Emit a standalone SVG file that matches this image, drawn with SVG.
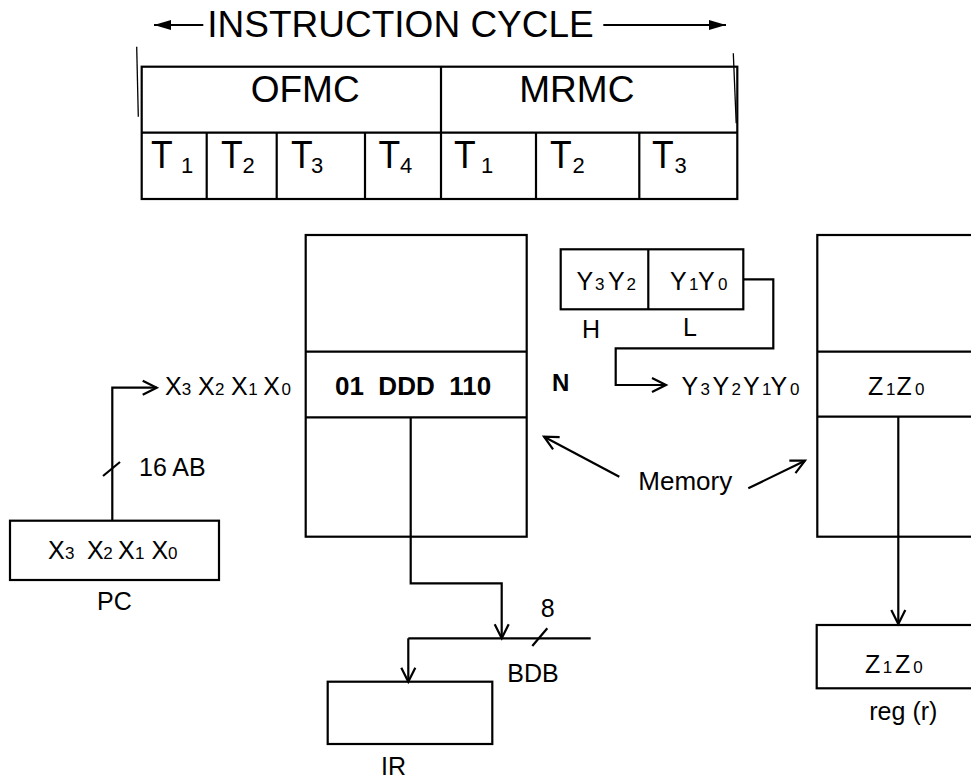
<svg xmlns="http://www.w3.org/2000/svg" width="971" height="780" viewBox="0 0 971 780">
<style>
text{font-family:"Liberation Sans",Arial,sans-serif;fill:#000}
.box{fill:#fff;stroke:#000;stroke-width:2.2}
.ln{fill:none;stroke:#000;stroke-width:2.2}
.thin{fill:none;stroke:#000;stroke-width:1.3}
.big{font-size:37px}
.tt{font-size:35.5px}
.sub{font-size:22px}
.lbl{font-size:25px}
.reg{font-size:25px}
.dg{font-size:17px}
</style>
<defs>
<marker id="open" markerUnits="userSpaceOnUse" markerWidth="20" markerHeight="20" refX="16" refY="8" orient="auto" overflow="visible">
<path d="M2,1 L16,8 L2,15" fill="none" stroke="#000" stroke-width="2.2"/>
</marker>
<marker id="solid" markerUnits="userSpaceOnUse" markerWidth="20" markerHeight="12" refX="17" refY="5" orient="auto">
<path d="M0,0 L17,5 L0,10 Z" fill="#000"/>
</marker>
</defs>
<rect width="971" height="780" fill="#fff"/>

<g id="cycle">
<line class="ln" x1="203.3" y1="25" x2="154" y2="25" marker-end="url(#solid)"/>
<line class="ln" x1="603.3" y1="25" x2="726" y2="25" marker-end="url(#solid)"/>
<text class="big" x="207.3" y="36.7">INSTRUCTION CYCLE</text>
<line class="thin" x1="136.7" y1="46.7" x2="138.3" y2="116.7"/>
<line class="thin" x1="733.3" y1="53.3" x2="736.2" y2="123.3"/>
</g>

<g id="timing-table">
<rect class="ln" x="141.7" y="66.7" width="595.6" height="132.3"/>
<line class="ln" x1="141.7" y1="132.7" x2="737.3" y2="132.7"/>
<line class="ln" x1="441" y1="66.7" x2="441" y2="199"/>
<line class="ln" x1="206.7" y1="132.7" x2="206.7" y2="199"/>
<line class="ln" x1="276.7" y1="132.7" x2="276.7" y2="199"/>
<line class="ln" x1="365" y1="132.7" x2="365" y2="199"/>
<line class="ln" x1="536" y1="132.7" x2="536" y2="199"/>
<line class="ln" x1="639.3" y1="132.7" x2="639.3" y2="199"/>
<text class="big" x="250.7" y="101.7">OFMC</text>
<text class="big" x="519.3" y="101.7">MRMC</text>
<text class="tt" transform="translate(151,168.3) scale(1,1.1)">T</text><text class="sub" x="181" y="173.3">1</text>
<text class="tt" transform="translate(221,168.3) scale(1,1.1)">T</text><text class="sub" x="242.5" y="173.3">2</text>
<text class="tt" transform="translate(291,168.3) scale(1,1.1)">T</text><text class="sub" x="311" y="173.3">3</text>
<text class="tt" transform="translate(378.5,168.3) scale(1,1.1)">T</text><text class="sub" x="400" y="173.3">4</text>
<text class="tt" transform="translate(454,168.3) scale(1,1.1)">T</text><text class="sub" x="481" y="173.3">1</text>
<text class="tt" transform="translate(550,168.3) scale(1,1.1)">T</text><text class="sub" x="572.5" y="173.3">2</text>
<text class="tt" transform="translate(652,168.3) scale(1,1.1)">T</text><text class="sub" x="674.5" y="173.3">3</text>
</g>

<g id="pc">
<rect class="box" x="10" y="520.7" width="209" height="59.3"/>
<text class="reg" y="559.3"><tspan x="48">X</tspan><tspan class="dg" x="65">3</tspan><tspan x="87">X</tspan><tspan class="dg" x="103.3">2</tspan><tspan x="118">X</tspan><tspan class="dg" x="135">1</tspan><tspan x="151.5">X</tspan><tspan class="dg" x="168">0</tspan></text>
<text class="lbl" x="97" y="609.5">PC</text>
</g>

<g id="addr-label">
<text class="reg" y="395"><tspan x="165">X</tspan><tspan class="dg" x="181.7">3</tspan><tspan x="198">X</tspan><tspan class="dg" x="215">2</tspan><tspan x="231">X</tspan><tspan class="dg" x="248.3">1</tspan><tspan x="263.3">X</tspan><tspan class="dg" x="281.5">0</tspan></text>
<text class="lbl" x="139" y="476">16 AB</text>
</g>

<g id="memory-left">
<rect class="box" x="305.7" y="235" width="221" height="301.7"/>
<line class="ln" x1="305.7" y1="351.7" x2="526.7" y2="351.7"/>
<line class="ln" x1="305.7" y1="417.3" x2="526.7" y2="417.3"/>
<text x="335" y="395" font-size="26" font-weight="bold" xml:space="preserve">01  DDD  110</text>
</g>

<g id="n-label">
<text x="552" y="390.5" font-size="24" font-weight="bold">N</text>
</g>

<g id="hl">
<rect class="box" x="560.7" y="249.3" width="182.6" height="60"/>
<line class="ln" x1="648.3" y1="249.3" x2="648.3" y2="309.3"/>
<text class="reg" y="290"><tspan x="576.5">Y</tspan><tspan class="dg" x="595">3</tspan><tspan x="608">Y</tspan><tspan class="dg" x="626.5">2</tspan></text>
<text class="reg" y="290"><tspan x="670">Y</tspan><tspan class="dg" x="689">1</tspan><tspan x="698">Y</tspan><tspan class="dg" x="718">0</tspan></text>
<text class="lbl" x="582" y="338.3">H</text>
<text class="lbl" x="683" y="336">L</text>
</g>

<g id="y-addr">
<text class="reg" y="395"><tspan x="681.5">Y</tspan><tspan class="dg" x="700.5">3</tspan><tspan x="712.5">Y</tspan><tspan class="dg" x="731.5">2</tspan><tspan x="743">Y</tspan><tspan class="dg" x="762">1</tspan><tspan x="770.5">Y</tspan><tspan class="dg" x="790">0</tspan></text>
</g>

<g id="memory-right">
<rect class="box" x="817.3" y="235" width="200" height="301.7"/>
<line class="ln" x1="817.3" y1="351.7" x2="971" y2="351.7"/>
<line class="ln" x1="817.3" y1="416.7" x2="971" y2="416.7"/>
<text class="reg" y="395"><tspan x="868">Z</tspan><tspan class="dg" x="886">1</tspan><tspan x="896.5">Z</tspan><tspan class="dg" x="915">0</tspan></text>
</g>

<g id="memory-label">
<text x="638.3" y="490" font-size="26">Memory</text>
</g>

<g id="ir">
<rect class="box" x="327.7" y="681.7" width="164.6" height="62.3"/>
<text class="lbl" x="381" y="775">IR</text>
</g>

<g id="reg-r">
<rect class="box" x="816.7" y="625" width="200" height="63.3"/>
<text class="reg" y="672.7"><tspan x="865">Z</tspan><tspan class="dg" x="882.7">1</tspan><tspan x="895">Z</tspan><tspan class="dg" x="913.3">0</tspan></text>
<text class="lbl" x="869.3" y="720">reg (r)</text>
</g>

<g id="bus-labels">
<text class="lbl" x="540.7" y="617">8</text>
<text class="lbl" x="507.3" y="681.7">BDB</text>
</g>

<g id="connectors">
<polyline class="ln" points="112.3,520.7 112.3,387.7 156.7,387.7" marker-end="url(#open)"/>
<line class="ln" x1="103" y1="476" x2="120" y2="462"/>
<polyline class="ln" points="743.3,279.3 773.3,279.3 773.3,348.3 615.7,348.3 615.7,385 666,385" marker-end="url(#open)"/>
<line class="ln" x1="619.3" y1="476.7" x2="544" y2="436.7" marker-end="url(#open)"/>
<line class="ln" x1="748.3" y1="488.3" x2="805" y2="460.7" marker-end="url(#open)"/>
<polyline class="ln" points="410.7,417.3 410.7,583.3 501.7,583.3 501.7,638.3" marker-end="url(#open)"/>
<line class="ln" x1="408.3" y1="638.3" x2="590.7" y2="638.3"/>
<line class="ln" x1="532.3" y1="646" x2="547.3" y2="628.3"/>
<polyline class="ln" points="408.3,638.3 408.3,681.7" marker-end="url(#open)"/>
<line class="ln" x1="898.3" y1="416.7" x2="898.3" y2="624" marker-end="url(#open)"/>
</g>
</svg>
